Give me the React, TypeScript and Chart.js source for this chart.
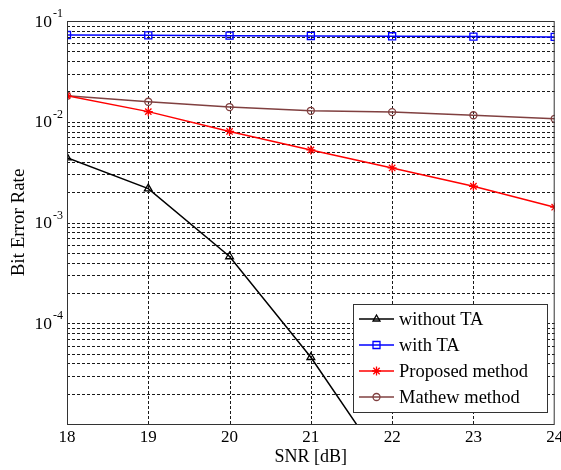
import React, { useEffect, useRef } from 'react';
import { Chart, registerables } from 'chart.js';
Chart.register(...registerables);

const snr = [18, 19, 20, 21, 22, 23, 24];
const withoutTA = [0.0044, 0.00217, 0.00046, 0.000046, 0.000003, null, null];
const withTA = [0.0726, 0.072, 0.0715, 0.071, 0.0705, 0.0700, 0.0695];
const proposed = [0.0181, 0.0126, 0.00802, 0.00525, 0.00348, 0.00229, 0.00142];
const mathew = [0.0181, 0.0158, 0.0140, 0.01285, 0.01247, 0.0116, 0.0107];
const seriesNames = ['without TA', 'with TA', 'Proposed method', 'Mathew method'];
const seriesColors = ['#000000', '#0000ff', '#ff0000', '#804040'];
const seriesMarkers = ['triangle', 'rect', 'star', 'circle'];
const yLabelExponents = [-1, -2, -3, -4];
const xTitle = 'SNR [dB]';
const yTitle = 'Bit Error Rate';

const FONT = '"Liberation Serif", "Times New Roman", serif';
const GRID_DASH = [3, 2];

function drawMarker(ctx: CanvasRenderingContext2D, style: string, x: number, y: number, color: string) {
  ctx.save();
  ctx.strokeStyle = color;
  ctx.lineWidth = 1.3;
  ctx.setLineDash([]);
  ctx.beginPath();
  if (style === 'triangle') {
    const r = 4;
    ctx.moveTo(x, y - r);
    ctx.lineTo(x + r * 0.866, y + r * 0.5);
    ctx.lineTo(x - r * 0.866, y + r * 0.5);
    ctx.closePath();
  } else if (style === 'rect') {
    ctx.rect(x - 3.5, y - 3.5, 7, 7);
  } else if (style === 'circle') {
    ctx.arc(x, y, 3.5, 0, Math.PI * 2);
  } else if (style === 'star') {
    const r = 4.5;
    for (let i = 0; i < 4; i++) {
      const a = (i * Math.PI) / 4;
      ctx.moveTo(x - r * Math.cos(a), y - r * Math.sin(a));
      ctx.lineTo(x + r * Math.cos(a), y + r * Math.sin(a));
    }
  }
  ctx.stroke();
  ctx.restore();
}

const gridPlugin = {
  id: 'dashedGrid',
  beforeDatasetsDraw(chart: any) {
    const ctx: CanvasRenderingContext2D = chart.ctx;
    const { left, right, top, bottom } = chart.chartArea;
    const xs = chart.scales.x;
    const ys = chart.scales.y;
    ctx.save();
    ctx.strokeStyle = '#1a1a1a';
    ctx.lineWidth = 1;
    ctx.setLineDash(GRID_DASH);
    ctx.beginPath();
    for (const t of xs.ticks) {
      const px = Math.round(xs.getPixelForValue(t.value)) + 0.5;
      if (px <= left + 1 || px >= right - 1) continue;
      ctx.moveTo(px, bottom);
      ctx.lineTo(px, top);
    }
    for (const t of ys.ticks) {
      const py = Math.round(ys.getPixelForValue(t.value)) + 0.5;
      if (py <= top + 1 || py >= bottom - 1) continue;
      ctx.moveTo(left, py);
      ctx.lineTo(right, py);
    }
    ctx.stroke();
    ctx.restore();
  },
};

const decorPlugin = {
  id: 'decor',
  afterDatasetsDraw(chart: any) {
    const ctx: CanvasRenderingContext2D = chart.ctx;
    const { left, right, top, bottom } = chart.chartArea;
    ctx.save();
    ctx.setLineDash([]);
    // axes box
    ctx.strokeStyle = '#333';
    ctx.lineWidth = 1;
    ctx.strokeRect(left + 0.5, top + 0.5, right - left - 1, bottom - top);
    // y tick labels with superscript exponents
    const yScale = chart.scales.y;
    ctx.fillStyle = '#000';
    ctx.textBaseline = 'middle';
    for (const e of yLabelExponents) {
      const py = yScale.getPixelForValue(Math.pow(10, e));
      ctx.font = `17.5px ${FONT}`;
      const base = '10';
      const bw = ctx.measureText(base).width;
      ctx.font = `12px ${FONT}`;
      const sup = String(e);
      const sw = ctx.measureText(sup).width;
      const endX = left - 4;
      ctx.font = `17.5px ${FONT}`;
      ctx.textAlign = 'left';
      ctx.fillText(base, endX - sw - bw - 1, py + 1);
      ctx.font = `12px ${FONT}`;
      ctx.fillText(sup, endX - sw, py - 7);
    }
    // legend
    const lx = 353, ly = 304, lw = 194, lh = 108;
    ctx.fillStyle = '#fff';
    ctx.fillRect(lx, ly, lw, lh);
    ctx.strokeStyle = '#333';
    ctx.lineWidth = 1;
    ctx.strokeRect(lx + 0.5, ly + 0.5, lw, lh);
    for (let i = 0; i < seriesNames.length; i++) {
      const cy = ly + 15 + i * 26;
      ctx.strokeStyle = seriesColors[i];
      ctx.lineWidth = 1.5;
      ctx.beginPath();
      ctx.moveTo(lx + 6, cy);
      ctx.lineTo(lx + 41, cy);
      ctx.stroke();
      drawMarker(ctx, seriesMarkers[i], lx + 23.5, cy, seriesColors[i]);
      ctx.fillStyle = '#000';
      ctx.font = `18.5px ${FONT}`;
      ctx.textAlign = 'left';
      ctx.textBaseline = 'middle';
      ctx.fillText(seriesNames[i], lx + 46, cy + 1);
    }
    ctx.restore();
  },
};

export default function App() {
  const ref = useRef<HTMLCanvasElement>(null);
  useEffect(() => {
    if (!ref.current) return;
    const allData = [withoutTA, withTA, proposed, mathew];
    const datasets = allData.map((arr, i) => ({
      label: seriesNames[i],
      data: snr.map((x, j) => ({ x, y: arr[j] })),
      borderColor: seriesColors[i],
      backgroundColor: 'rgba(0,0,0,0)',
      borderWidth: 1.5,
      pointStyle: seriesMarkers[i] as any,
      pointRadius: seriesMarkers[i] === 'rect' ? 5 : seriesMarkers[i] === 'star' ? 4.5 : seriesMarkers[i] === 'circle' ? 3.5 : 4.5,
      pointBorderWidth: 1.3,
      pointBorderColor: seriesColors[i],
      pointBackgroundColor: 'rgba(0,0,0,0)',
      spanGaps: false,
      tension: 0,
    }));
    const chart = new Chart(ref.current, {
      type: 'line',
      data: { datasets: datasets as any },
      plugins: [gridPlugin, decorPlugin],
      options: {
        animation: false,
        responsive: true,
        maintainAspectRatio: false,
        layout: { padding: { top: 21, right: 5, left: 0, bottom: 0 } },
        plugins: { legend: { display: false }, tooltip: { enabled: false } },
        scales: {
          x: {
            type: 'linear',
            min: 18,
            max: 24,
            ticks: {
              stepSize: 1,
              color: '#000',
              font: { family: FONT, size: 17 },
              padding: 3,
              maxRotation: 0,
            },
            grid: { display: false, drawTicks: false },
            border: { display: false },
            title: {
              display: true,
              text: xTitle,
              color: '#000',
              font: { family: FONT, size: 18 },
              padding: { top: 0, bottom: 2 },
            },
            afterFit: (s: any) => {
              s.height = 46;
              s.paddingLeft = 0;
              s.paddingRight = 0;
            },
          },
          y: {
            type: 'logarithmic',
            min: 1e-5,
            max: 1e-1,
            afterBuildTicks: (s: any) => {
              const t: any[] = [];
              for (let e = -5; e <= -1; e++) {
                for (let m = 1; m <= 9; m++) {
                  const v = m * Math.pow(10, e);
                  if (v > 0.1000001) break;
                  t.push({ value: v, major: m === 1 });
                }
              }
              s.ticks = t;
            },
            ticks: { display: false },
            grid: { display: false, drawTicks: false },
            border: { display: false },
            title: {
              display: true,
              text: yTitle,
              color: '#000',
              font: { family: FONT, size: 19 },
              padding: { top: 8, bottom: 0 },
            },
            afterFit: (s: any) => {
              s.width = 67;
              s.paddingTop = 0;
              s.paddingBottom = 0;
            },
          },
        },
      } as any,
    });
    return () => chart.destroy();
  }, []);
  return (
    <div style={{ position: 'fixed', left: 0, top: 0, width: 561, height: 470, background: '#fff' }}>
      <canvas ref={ref} />
    </div>
  );
}
